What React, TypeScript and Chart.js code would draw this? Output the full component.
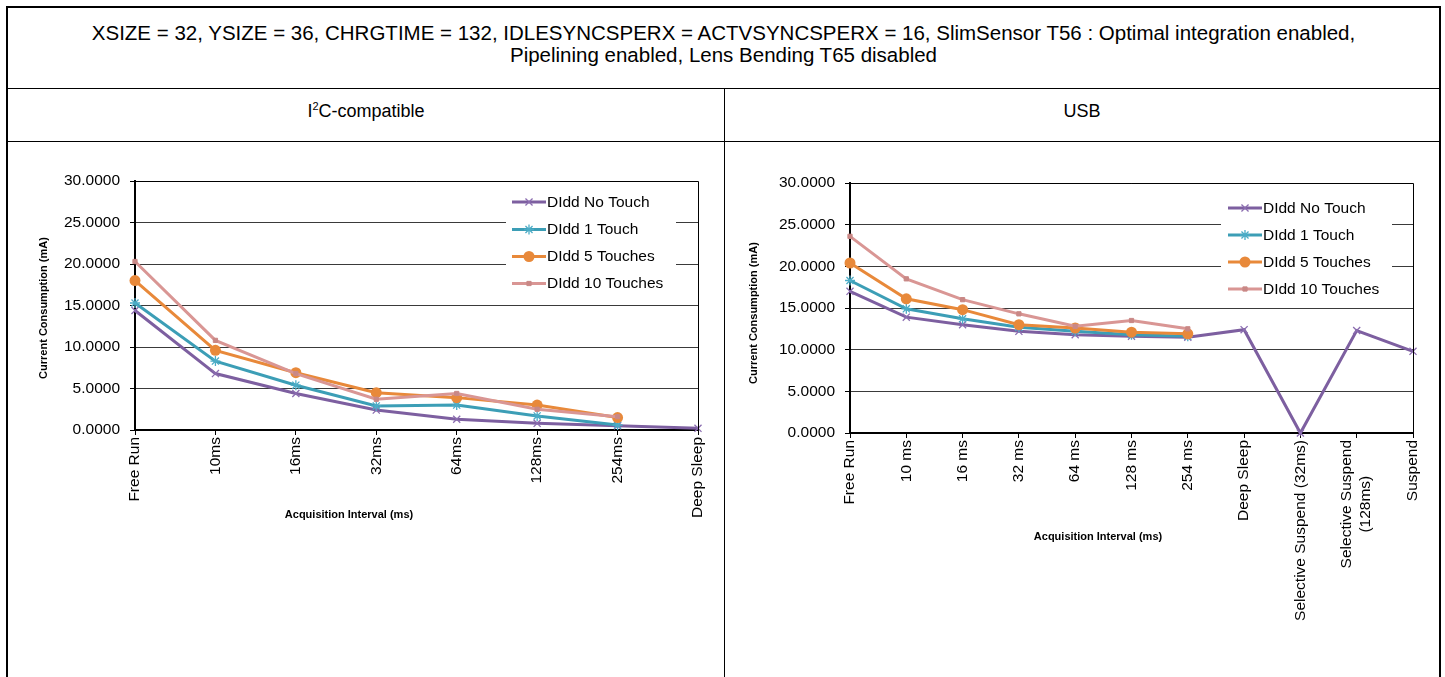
import React, { useEffect, useRef } from 'react';
import { Chart, registerables } from 'chart.js';
import { drawPoint } from 'chart.js/helpers';

Chart.register(...registerables);

const FONT = '"Liberation Sans", Arial, Helvetica, sans-serif';

// ---------- data ----------
const seriesNames = ['DIdd No Touch', 'DIdd 1 Touch', 'DIdd 5 Touches', 'DIdd 10 Touches'];

const i2cCategories = ['Free Run', '10ms', '16ms', '32ms', '64ms', '128ms', '254ms', 'Deep Sleep'];
const i2cNoTouch = [14.4, 6.8, 4.4, 2.4, 1.3, 0.8, 0.5, 0.2];
const i2cOneTouch = [15.3, 8.3, 5.4, 2.9, 3.0, 1.7, 0.6];
const i2cFiveTouches = [18.0, 9.6, 6.9, 4.5, 3.9, 3.0, 1.5];
const i2cTenTouches = [20.3, 10.8, 6.8, 3.7, 4.4, 2.5, 1.6];

const usbCategories: (string | string[])[] = [
  'Free Run', '10 ms', '16 ms', '32 ms', '64 ms', '128 ms', '254 ms', 'Deep Sleep',
  'Selective Suspend (32ms)', ['Selective Suspend', '(128ms)'], 'Suspend',
];
const usbNoTouch = [17.0, 13.9, 13.0, 12.2, 11.8, 11.6, 11.5, 12.4, 0.0, 12.3, 9.8];
const usbOneTouch = [18.3, 14.9, 13.7, 12.7, 12.2, 11.8, 11.6];
const usbFiveTouches = [20.4, 16.1, 14.8, 13.0, 12.6, 12.1, 11.9];
const usbTenTouches = [23.6, 18.5, 16.0, 14.3, 12.8, 13.5, 12.5];

const yMin = 0;
const yMax = 30;
const yStep = 5;

// ---------- styles ----------
const lineColors = ['#7D5FA0', '#3C9EB6', '#E8893A', '#D99694'];
const markerColors = ['#8B6DB0', '#4BACC6', '#E8893A', '#C98886'];
const markerStyles = ['crossRot', 'star', 'circle', 'rect'];
const markerRadii = [5, 5, 5.5, 3];
const markerBorderWidths = [1.3, 1.3, 0, 1];

type Layout = {
  left: number; top: number; width: number; height: number;
  padTop: number; padRight: number; yAxisWidth: number; xAxisHeight: number;
  labelGap: number; labelLineHeight: number;
  xTitle: { x: number; y: number };
  yTitle: { x: number; y: number };
  legend: { bgL: number; bgT: number; bgR: number; bgB: number; lineX0: number; lineX1: number; textX: number; rows: number[] };
};

const leftLayout: Layout = {
  left: 8, top: 142, width: 716, height: 535,
  padTop: 39, padRight: 26, yAxisWidth: 127, xAxisHeight: 247,
  labelGap: 7, labelLineHeight: 19,
  xTitle: { x: 341, y: 373 },
  yTitle: { x: 36, y: 166 },
  legend: { bgL: 498, bgT: 46, bgR: 668, bgB: 155, lineX0: 504, lineX1: 538, textX: 539, rows: [60, 87.5, 114.5, 141.5] },
};

const rightLayout: Layout = {
  left: 725, top: 142, width: 714, height: 535,
  padTop: 41, padRight: 26, yAxisWidth: 125, xAxisHeight: 244,
  labelGap: 7, labelLineHeight: 19,
  xTitle: { x: 373, y: 395 },
  yTitle: { x: 29, y: 171 },
  legend: { bgL: 496, bgT: 51, bgR: 667, bgB: 161, lineX0: 503, lineX1: 537, textX: 538, rows: [66, 93, 120, 147] },
};

const TICK_FONT = 15.5;
const LEGEND_FONT = 15.5;

function makeDecor(categories: (string | string[])[], L: Layout) {
  return {
    id: 'decor',
    afterDraw(chart: any) {
      const { ctx, chartArea: a } = chart;
      const xs = chart.scales.x;
      ctx.save();
      // plot frame (top & right)
      ctx.strokeStyle = '#000';
      ctx.lineWidth = 1;
      ctx.beginPath();
      ctx.moveTo(a.left, Math.round(a.top) + 0.5);
      ctx.lineTo(Math.round(a.right) + 0.5, Math.round(a.top) + 0.5);
      ctx.lineTo(Math.round(a.right) + 0.5, a.bottom);
      ctx.stroke();

      // x labels (rotated)
      ctx.fillStyle = '#000';
      ctx.font = `${TICK_FONT}px ${FONT}`;
      ctx.textAlign = 'center';
      ctx.textBaseline = 'middle';
      categories.forEach((lab, i) => {
        const lines = Array.isArray(lab) ? lab : [lab];
        const maxW = Math.max(...lines.map((l) => ctx.measureText(l).width));
        const x = xs.getPixelForValue(i);
        ctx.save();
        ctx.translate(x, a.bottom + L.labelGap);
        ctx.rotate(-Math.PI / 2);
        lines.forEach((l, j) => {
          ctx.fillText(l, -maxW / 2, (j - (lines.length - 1) / 2) * L.labelLineHeight);
        });
        ctx.restore();
      });

      // axis titles
      ctx.font = `bold 11px ${FONT}`;
      ctx.fillText('Acquisition Interval (ms)', L.xTitle.x, L.xTitle.y);
      ctx.save();
      ctx.translate(L.yTitle.x, L.yTitle.y);
      ctx.rotate(-Math.PI / 2);
      ctx.fillText('Current Consumption (mA)', 0, 0);
      ctx.restore();

      // legend
      const lg = L.legend;
      ctx.fillStyle = '#fff';
      ctx.fillRect(lg.bgL, lg.bgT, lg.bgR - lg.bgL, lg.bgB - lg.bgT);
      ctx.font = `${LEGEND_FONT}px ${FONT}`;
      ctx.textAlign = 'left';
      chart.data.datasets.forEach((ds: any, k: number) => {
        const y = lg.rows[k];
        ctx.strokeStyle = ds.borderColor;
        ctx.lineWidth = 3;
        ctx.beginPath();
        ctx.moveTo(lg.lineX0, y);
        ctx.lineTo(lg.lineX1, y);
        ctx.stroke();
        ctx.strokeStyle = ds.pointBorderColor;
        ctx.fillStyle = ds.pointBackgroundColor;
        ctx.lineWidth = ds.pointBorderWidth;
        drawPoint(ctx, { pointStyle: ds.pointStyle, radius: ds.pointRadius, borderWidth: ds.pointBorderWidth, rotation: 0 } as any, (lg.lineX0 + lg.lineX1) / 2, y);
        ctx.fillStyle = '#000';
        ctx.fillText(ds.label, lg.textX, y + 0.5);
      });
      ctx.restore();
    },
  };
}

function LineChart({ categories, series, layout }: { categories: (string | string[])[]; series: number[][]; layout: Layout }) {
  const ref = useRef<HTMLCanvasElement>(null);
  useEffect(() => {
    const L = layout;
    const datasets = series.map((data, k) => ({
      label: seriesNames[k],
      data,
      borderColor: lineColors[k],
      backgroundColor: lineColors[k],
      borderWidth: 3,
      pointStyle: markerStyles[k],
      pointRadius: markerRadii[k],
      pointBorderWidth: markerBorderWidths[k],
      pointBorderColor: markerColors[k],
      pointBackgroundColor: markerColors[k],
      tension: 0,
      clip: false,
      order: series.length - k,
    }));
    const chart = new Chart(ref.current as HTMLCanvasElement, {
      type: 'line',
      data: {
        labels: categories.map((c) => (Array.isArray(c) ? c.join(' ') : c)),
        datasets: datasets as any,
      },
      options: {
        responsive: false,
        animation: false,
        events: [],
        layout: { padding: { left: 0, top: L.padTop, right: L.padRight, bottom: 0 } },
        plugins: { legend: { display: false }, tooltip: { enabled: false }, title: { display: false } },
        scales: {
          x: {
            type: 'category',
            offset: false,
            grid: { display: true, drawOnChartArea: false, drawTicks: true, tickLength: 5, color: '#000', lineWidth: 1 },
            border: { display: true, color: '#000', width: 2 },
            ticks: { display: false, autoSkip: false },
            afterFit: (s: any) => { s.height = L.xAxisHeight; },
          },
          y: {
            min: yMin,
            max: yMax,
            ticks: {
              stepSize: yStep,
              callback: (v: any) => Number(v).toFixed(4),
              color: '#000',
              font: { family: FONT, size: TICK_FONT },
              padding: 10,
            },
            grid: { color: '#3a3a3a', tickColor: '#000', lineWidth: 1, tickLength: 5, drawTicks: true },
            border: { display: true, color: '#000', width: 2 },
            afterFit: (s: any) => { s.width = L.yAxisWidth; },
          },
        },
      } as any,
      plugins: [makeDecor(categories, L)],
    });
    return () => chart.destroy();
  }, []);
  return (
    <canvas
      ref={ref}
      width={layout.width}
      height={layout.height}
      style={{ position: 'absolute', left: layout.left, top: layout.top, width: layout.width, height: layout.height }}
    />
  );
}

const line = (style: React.CSSProperties) => <div style={{ position: 'absolute', background: '#000', ...style }} />;

export default function App() {
  return (
    <div style={{ position: 'fixed', left: 0, top: 0, width: 1445, height: 677, background: '#fff', overflow: 'hidden', fontFamily: FONT, color: '#000' }}>
      {line({ left: 6, top: 6, width: 1435, height: 2 })}
      {line({ left: 6, top: 6, width: 2, height: 671 })}
      {line({ left: 1439, top: 6, width: 2, height: 671 })}
      {line({ left: 6, top: 88, width: 1435, height: 1 })}
      {line({ left: 6, top: 141, width: 1435, height: 1 })}
      {line({ left: 724, top: 88, width: 1, height: 589 })}
      <div style={{ position: 'absolute', left: 8, top: 22, width: 1431, textAlign: 'center', fontSize: 20.5, lineHeight: '22px', whiteSpace: 'nowrap' }}>
        XSIZE = 32, YSIZE = 36, CHRGTIME = 132, IDLESYNCSPERX = ACTVSYNCSPERX = 16, SlimSensor T56 : Optimal integration enabled,
        <br />
        Pipelining enabled, Lens Bending T65 disabled
      </div>
      <div style={{ position: 'absolute', left: 8, top: 100, width: 716, textAlign: 'center', fontSize: 18, lineHeight: '22px' }}>
        I<sup style={{ fontSize: 11, lineHeight: 0, verticalAlign: 7 }}>2</sup>C-compatible
      </div>
      <div style={{ position: 'absolute', left: 725, top: 100, width: 714, textAlign: 'center', fontSize: 18, lineHeight: '22px' }}>
        USB
      </div>
      <LineChart categories={i2cCategories} series={[i2cNoTouch, i2cOneTouch, i2cFiveTouches, i2cTenTouches]} layout={leftLayout} />
      <LineChart categories={usbCategories} series={[usbNoTouch, usbOneTouch, usbFiveTouches, usbTenTouches]} layout={rightLayout} />
    </div>
  );
}
